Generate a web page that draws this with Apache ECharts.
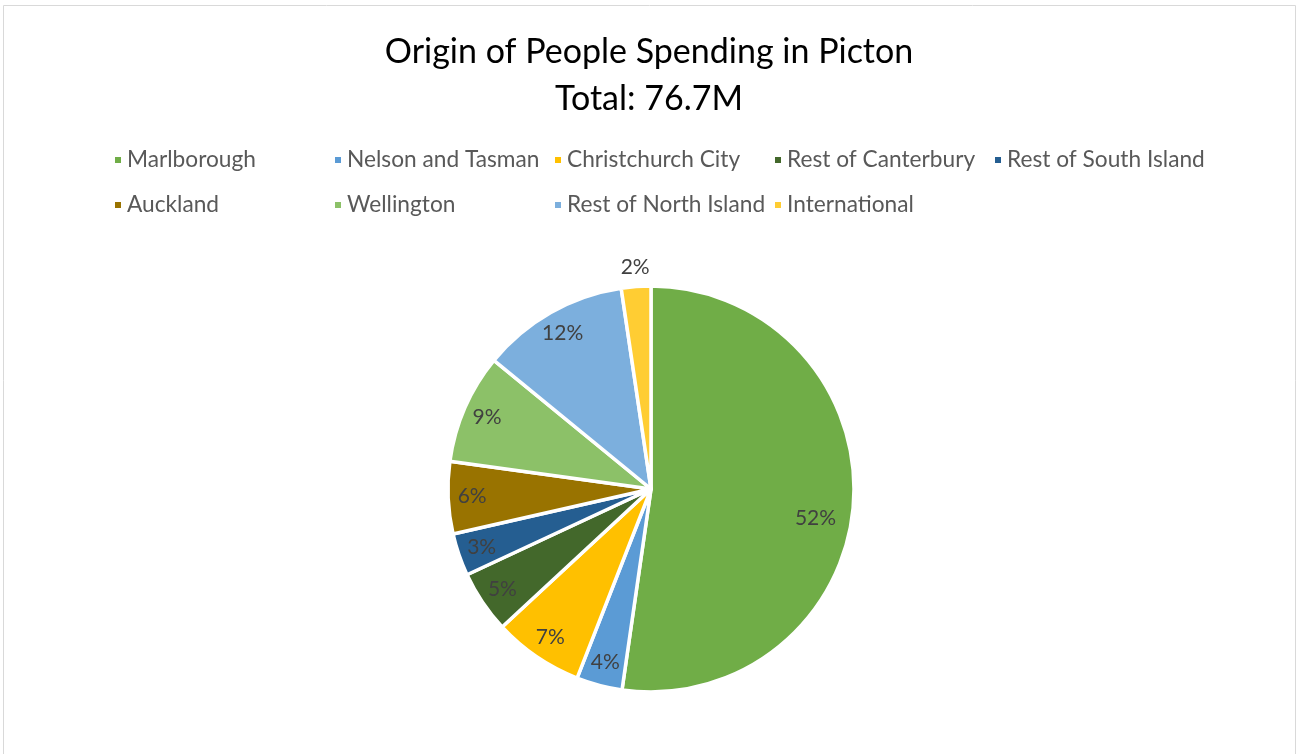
<!DOCTYPE html>
<html><head><meta charset="utf-8">
<script src="https://cdn.jsdelivr.net/npm/echarts@6/dist/echarts.min.js"></script>
<style>html,body{margin:0;padding:0;background:#fff}#c{width:1298px;height:754px}</style>
</head><body><div id="c"></div>
<script>
const titleLines = ['Origin of People Spending in Picton', 'Total: 76.7M'];
const categories = ['Marlborough', 'Nelson and Tasman', 'Christchurch City', 'Rest of Canterbury', 'Rest of South Island', 'Auckland', 'Wellington', 'Rest of North Island', 'International'];
const valuesM = [40.1, 2.8, 5.5, 3.8, 2.6, 4.4, 6.7, 9.0, 1.8];
const colors = ['#70AD47', '#5B9BD5', '#FFC000', '#43682B', '#255E91', '#997300', '#8CC168', '#7CAFDD', '#FFCD33'];

const FONT = 'Lato';
const legendCols = [113, 333, 553, 773, 993];
const legendRows = [145, 190];
const center = [651, 489];
const R = 203;

const chart = echarts.init(document.getElementById('c'), null, { renderer: 'canvas' });

const legends = categories.map((name, i) => ({
  data: [name],
  left: legendCols[i % 5],
  top: legendRows[Math.floor(i / 5)],
  padding: 0,
  icon: 'rect',
  itemWidth: 8,
  itemHeight: 8,
  selectedMode: false,
  textStyle: { fontFamily: FONT, fontSize: 22.7, color: '#595959', lineHeight: 30, padding: [0, 0, 0, 0] }
}));

const pctText = p => Math.round(p.percent) + '%';
const mainData = categories.map((name, i) => ({ name, value: valuesM[i], itemStyle: { color: colors[i] } }));
const labelData = categories.map((name, i) => {
  const d = { name, value: valuesM[i] };
  if (i === 0) d.label = { formatter: p => '{m|' + pctText(p) + '}' };
  if (i === categories.length - 1) {
    d.label = { position: 'outside', distanceToLabelLine: -15 };
    d.labelLine = { show: false, length: 19, length2: 0 };
  }
  return d;
});

chart.setOption({
  animation: false,
  color: colors,
  title: {
    text: titleLines.join('\n'),
    left: 'center',
    top: 29,
    padding: 0,
    textStyle: { fontFamily: FONT, fontSize: 34, fontWeight: 'normal', color: '#000000', lineHeight: 47 }
  },
  legend: legends,
  graphic: [{
    type: 'rect', silent: true, z: -10,
    shape: { x: 3.5, y: 5.5, width: 1292, height: 800 },
    style: { fill: 'none', stroke: '#D9D9D9', lineWidth: 1 }
  }],
  series: [
    {
      type: 'pie',
      center: center,
      radius: R,
      startAngle: 90,
      clockwise: true,
      label: { show: false },
      labelLine: { show: false },
      itemStyle: { borderColor: '#ffffff', borderWidth: 3.5 },
      emphasis: { disabled: true },
      data: mainData
    },
    {
      type: 'pie',
      center: center,
      radius: [149, R],
      startAngle: 90,
      clockwise: true,
      silent: true,
      legendHoverLink: false,
      avoidLabelOverlap: false,
      itemStyle: { color: 'rgba(0,0,0,0)', borderWidth: 0 },
      emphasis: { disabled: true },
      label: {
        show: true,
        position: 'inside',
        fontFamily: FONT,
        fontSize: 21,
        color: '#404040',
        formatter: pctText,
        rich: {
          m: { fontFamily: FONT, fontSize: 21, color: '#404040', padding: [32, 28, 0, 0] }
        }
      },
      labelLine: { show: false },
      data: labelData
    }
  ]
});
</script>
</body></html>
